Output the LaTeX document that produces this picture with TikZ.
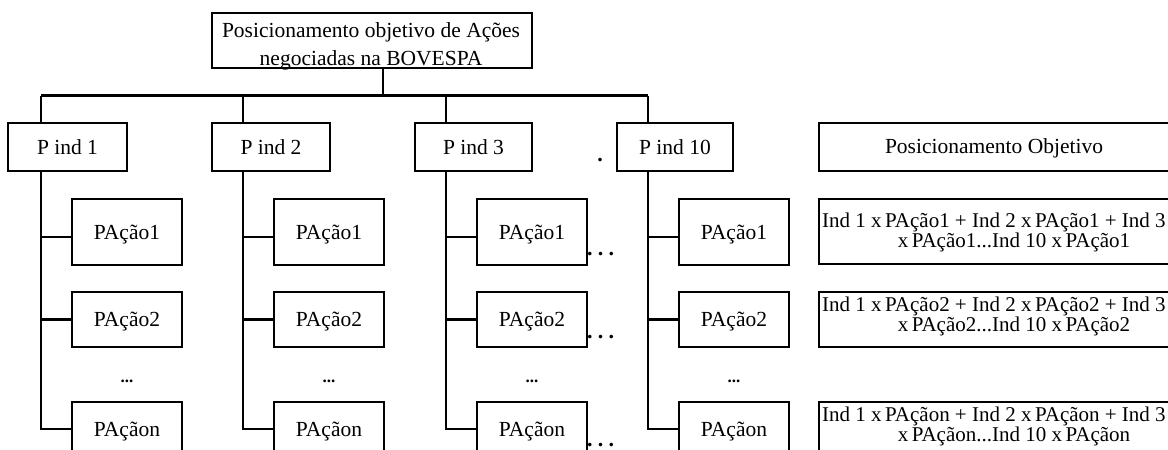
\documentclass[tikz,border=0pt]{standalone}
\usepackage{fontspec}
\setmainfont{Liberation Serif}
\begin{document}
\begin{tikzpicture}[x=1pt,y=-1pt,
  box/.style={draw, line width=2.5pt, inner sep=0pt, text depth=0pt,
    font=\fontsize{21.5pt}{24pt}\selectfont},
  conn/.style={line width=2.3pt},
  txt/.style={inner sep=0pt, anchor=base, font=\fontsize{21.5pt}{24pt}\selectfont},
  rtxt/.style={inner sep=0pt, anchor=base, font=\fontsize{21pt}{24pt}\selectfont},
  rtxtl/.style={inner sep=0pt, anchor=base west, font=\fontsize{21pt}{24pt}\selectfont},
  dotsmid/.style={inner sep=0pt, anchor=base, font=\fontsize{17pt}{18pt}\selectfont\bfseries},
  dotsside/.style={inner sep=0pt, anchor=base west, font=\fontsize{22pt}{24pt}\selectfont\bfseries}]
\useasboundingbox (0,0) rectangle (1168,450);
\clip (0,0) rectangle (1168,450);

% root
\node[box, minimum width=320pt, minimum height=55pt] (top) at (372,40.5) {};
\node[txt] (topa) at (371,37) {Posicionamento objetivo de Ações};
\node[txt] (topb) at (371,65) {negociadas na BOVESPA};

% bus
\coordinate (bus) at (383,95.5);
\coordinate (d1) at (41,95.5);
\coordinate (d2) at (243,95.5);
\coordinate (d3) at (446,95.5);
\coordinate (d4) at (648,95.5);
\draw[conn] (top.south -| bus) -- (bus);
\draw[conn] (d1) -- (d4);

% indicator boxes
\node[box, minimum width=119pt, minimum height=48pt] (p1) at (67.5,147) {P ind 1};
\node[box, minimum width=118pt, minimum height=48pt] (p2) at (271,147) {P ind 2};
\node[box, minimum width=117pt, minimum height=48pt] (p3) at (473.5,147) {P ind 3};
\node[box, minimum width=116pt, minimum height=48pt] (p10) at (675,147) {P ind 10};
\node[txt, font=\fontsize{22pt}{24pt}\selectfont\bfseries] (gap) at (600,161.5) {.};

% stock boxes
\foreach \c/\d/\x in {1/d1/127,2/d2/329,3/d3/532,4/d4/734}{
  \node[box, minimum width=110pt, minimum height=66pt] (a\c1) at (\x,232) {PAção1};
  \node[box, minimum width=110pt, minimum height=55pt] (a\c2) at (\x,319.5) {PAção2};
  \node[box, minimum width=110pt, minimum height=54pt] (a\c n) at (\x,429) {PAçãon};
  \node[dotsmid] (m\c) at (\x,382) {...};
}
\draw[conn] (d1) -- (d1 |- p1.north);
\draw[conn] (d2) -- (d2 |- p2.north);
\draw[conn] (d3) -- (d3 |- p3.north);
\draw[conn] (d4) -- (d4 |- p10.north);
\draw[conn] (d1 |- p1.south) |- (a1n.west);
\draw[conn] (d2 |- p2.south) |- (a2n.west);
\draw[conn] (d3 |- p3.south) |- (a3n.west);
\draw[conn] (d4 |- p10.south) |- (a4n.west);
\foreach \c/\d in {1/d1,2/d2,3/d3,4/d4}{
  \coordinate (c\c) at ([yshift=-5pt]a\c1.west);
  \draw[conn] (c\c -| \d) -- (c\c);
  \draw[conn] (a\c2.west -| \d) -- (a\c2.west);
}

% dots after third column
\node[dotsside] (s1) at (587,255) {.\kern5.2pt.\kern5.2pt.};
\node[dotsside] (s2) at (587,338.5) {.\kern5.2pt.\kern5.2pt.};
\node[dotsside] (s3) at (587,446.5) {.\kern5.2pt.\kern5.2pt.};

% right column
\node[box, minimum width=390pt, minimum height=48pt] (r0) at (1014,147) {};
\node[txt] (r0t) at (994,153) {Posicionamento Objetivo};
\node[box, minimum width=390pt, minimum height=65pt] (r1) at (1014,231.5) {};
\node[rtxtl] (r1a) at (822,227) {Ind 1 x\,PAção1 + Ind 2 x\,PAção1 + Ind 3};
\node[rtxt] (r1b) at (1014,247) {x\,PAção1...Ind 10 x\,PAção1};
\node[box, minimum width=390pt, minimum height=55pt] (r2) at (1014,319.5) {};
\node[rtxtl] (r2a) at (822,311) {Ind 1 x\,PAção2 + Ind 2 x\,PAção2 + Ind 3};
\node[rtxt] (r2b) at (1014,331) {x\,PAção2...Ind 10 x\,PAção2};
\node[box, minimum width=390pt, minimum height=54pt] (r3) at (1014,429) {};
\node[rtxtl] (r3a) at (822,421) {Ind 1 x\,PAçãon + Ind 2 x\,PAçãon + Ind 3};
\node[rtxt] (r3b) at (1014,441) {x\,PAçãon...Ind 10 x\,PAçãon};
\end{tikzpicture}
\end{document}
